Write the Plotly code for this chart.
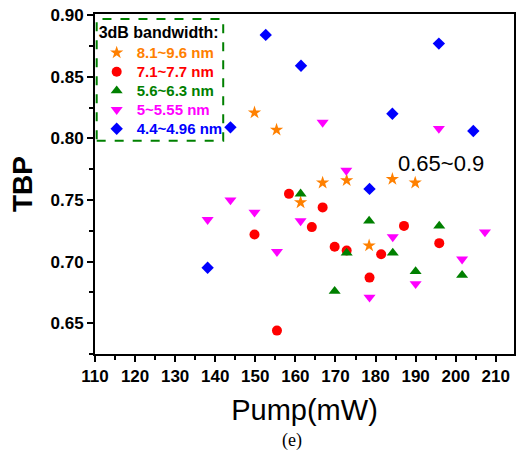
import plotly.graph_objects as go

# ---- data ----
star_x = [149.8, 155.3, 161.3, 166.8, 172.8, 178.4, 184.2, 189.9]
star_y = [0.821, 0.807, 0.748, 0.764, 0.766, 0.713, 0.767, 0.764]

circ_x = [149.8, 155.4, 158.4, 164.1, 166.8, 169.8, 172.8, 178.5, 181.4, 187.1, 195.9]
circ_y = [0.722, 0.644, 0.755, 0.728, 0.744, 0.712, 0.709, 0.687, 0.706, 0.729, 0.715]

tri_x = [161.3, 169.8, 172.8, 178.4, 184.3, 190.0, 195.9, 201.6]
tri_y = [0.755, 0.676, 0.707, 0.733, 0.707, 0.692, 0.729, 0.689]

tdn_x = [138.1, 143.8, 149.8, 155.4, 161.3, 166.8, 172.7, 178.5, 184.3, 190.0, 195.8, 201.6, 207.3]
tdn_y = [0.734, 0.750, 0.740, 0.708, 0.733, 0.813, 0.774, 0.671, 0.720, 0.682, 0.808, 0.702, 0.724]

dia_x = [138.1, 143.8, 152.6, 161.4, 178.5, 184.2, 195.8, 204.4]
dia_y = [0.695, 0.809, 0.884, 0.859, 0.759, 0.820, 0.877, 0.806]

series = [
    ("8.1~9.6 nm", star_x, star_y, "star", "#FF8000", 10),
    ("7.1~7.7 nm", circ_x, circ_y, "circle", "#FF0000", 10),
    ("5.6~6.3 nm", tri_x, tri_y, "triangle-up", "#008000", 10.5),
    ("5~5.55 nm", tdn_x, tdn_y, "triangle-down", "#FF00FF", 10.5),
    ("4.4~4.96 nm", dia_x, dia_y, "diamond", "#0000FF", 9.5),
]

FONT = "Arial, Liberation Sans, sans-serif"

fig = go.Figure()
for name, xs, ys, sym, col, sz in series:
    fig.add_trace(go.Scatter(
        x=xs, y=ys, mode="markers",
        name=f"<span style='color:{col};font-size:15px'><b>{name}</b></span>",
        marker=dict(symbol=sym, color=col, size=sz, line=dict(width=0)),
    ))

fig.update_layout(
    width=516, height=453,
    margin=dict(l=95, r=0, t=14, b=99),
    paper_bgcolor="white", plot_bgcolor="white",
    font=dict(family=FONT, color="black"),
    showlegend=True,
    legend=dict(
        x=0.004, y=0.99, xanchor="left", yanchor="top",
        bgcolor="rgba(0,0,0,0)", borderwidth=0,
        font=dict(family=FONT, size=12.3),
        title=dict(text="<b>3dB bandwidth:</b>", font=dict(family=FONT, size=16, color="black")),
        tracegroupgap=0,
    ),
    xaxis=dict(
        range=[110, 214.55], tick0=110, dtick=10,
        showgrid=False, zeroline=False,
        showline=True, linecolor="black", linewidth=2, mirror=True,
        ticks="outside", ticklen=6, tickwidth=2, tickcolor="black",
        tickfont=dict(family=FONT, size=17, color="black", weight="bold"),
        minor=dict(ticks="outside", ticklen=4, tickwidth=2, dtick=5, tick0=110, tickcolor="black"),
        title=dict(text="Pump(mW)", font=dict(family=FONT, size=29, color="black"), standoff=14),
    ),
    yaxis=dict(
        range=[0.625, 0.901], tick0=0.65, dtick=0.05, tickformat=".2f",
        showgrid=False, zeroline=False,
        showline=True, linecolor="black", linewidth=2, mirror=True,
        ticks="outside", ticklen=6, tickwidth=2, tickcolor="black",
        tickfont=dict(family=FONT, size=17, color="black", weight="bold"),
        minor=dict(ticks="outside", ticklen=4, tickwidth=2, dtick=0.025, tick0=0.625, tickcolor="black"),
        title=dict(text="TBP", font=dict(family=FONT, size=28, color="black", weight="bold"), standoff=10),
    ),
    shapes=[dict(
        type="rect", xref="paper", yref="paper",
        x0=0.004, x1=0.306, y0=0.627, y1=0.985,
        line=dict(color="#008000", width=2, dash="dash"),
        fillcolor="rgba(0,0,0,0)",
    )],
    annotations=[
        dict(x=196.4, y=0.780, xref="x", yref="y", text="0.65~0.9", showarrow=False,
             font=dict(family=FONT, size=22, color="black")),
        dict(x=0.47, y=-0.255, xref="paper", yref="paper", text="(e)", showarrow=False,
             xanchor="center", yanchor="middle",
             font=dict(family="Liberation Serif, Times New Roman, serif", size=18, color="black")),
    ],
)

fig.write_html("out.html")
